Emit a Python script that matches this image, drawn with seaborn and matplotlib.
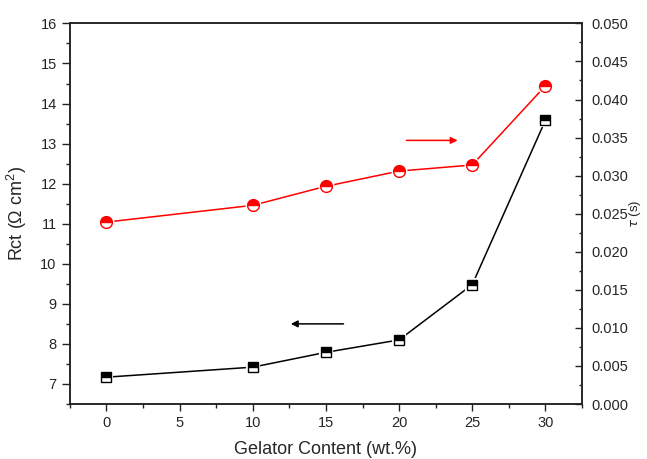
import matplotlib
matplotlib.use("Agg")
import matplotlib.pyplot as plt
from matplotlib.ticker import MultipleLocator, FormatStrFormatter
import seaborn as sns
import pandas as pd

# Gelator content (wt.%) and measured values
gelator = [0, 10, 15, 20, 25, 30]
rct = [7.17, 7.42, 7.79, 8.10, 9.48, 13.58]
tau = [0.0239, 0.0261, 0.0286, 0.0306, 0.0314, 0.0418]

sns.set_style("ticks")
plt.rcParams["font.family"] = ["Liberation Sans", "DejaVu Sans"]
plt.rcParams["mathtext.fontset"] = "custom"
plt.rcParams["mathtext.rm"] = "Liberation Sans"

df = pd.DataFrame({"gelator": gelator, "rct": rct, "tau": tau})

fig = plt.figure(figsize=(6.47, 4.59), dpi=100)
ax = fig.add_axes([0.108, 0.1198, 0.7915, 0.8292])
ax2 = ax.twinx()

# Rct series (left axis)
sns.lineplot(data=df, x="gelator", y="rct", ax=ax, color="black", lw=1.1,
             zorder=2, legend=False)
ax.plot(df["gelator"], df["rct"], ls="none", marker="s", ms=7.5,
        mfc="white", mec="white", mew=3.0, zorder=3)
ax.plot(df["gelator"], df["rct"], ls="none", marker="s", ms=7.5,
        fillstyle="top", mfc="black", mfcalt="white", mec="black",
        mew=1.0, zorder=4)

# tau series (right axis)
sns.lineplot(data=df, x="gelator", y="tau", ax=ax2, color="red", lw=1.1,
             zorder=2, legend=False)
ax2.plot(df["gelator"], df["tau"], ls="none", marker="o", ms=8.5,
         mfc="white", mec="white", mew=3.0, zorder=3)
ax2.plot(df["gelator"], df["tau"], ls="none", marker="o", ms=8.5,
         fillstyle="top", mfc="red", mfcalt="white", mec="red",
         mew=1.0, zorder=4)

# Arrows pointing to each series' axis
ax.annotate("", xy=(12.6, 8.5), xytext=(16.2, 8.5),
            arrowprops=dict(arrowstyle="-|>", color="black", lw=1.1,
                            mutation_scale=10, shrinkA=0, shrinkB=0))
ax.annotate("", xy=(24.0, 13.08), xytext=(20.5, 13.08),
            arrowprops=dict(arrowstyle="-|>", color="red", lw=1.1,
                            mutation_scale=10, shrinkA=0, shrinkB=0))

ax.set_xlim(-2.5, 32.5)
ax.set_ylim(6.5, 16)
ax2.set_ylim(0.0, 0.050)

ax.xaxis.set_major_locator(MultipleLocator(5))
ax.xaxis.set_minor_locator(MultipleLocator(2.5))
ax.yaxis.set_major_locator(MultipleLocator(1))
ax.yaxis.set_minor_locator(MultipleLocator(0.5))
ax2.yaxis.set_major_locator(MultipleLocator(0.005))
ax2.yaxis.set_minor_locator(MultipleLocator(0.0025))
ax2.yaxis.set_major_formatter(FormatStrFormatter("%.3f"))

ax.tick_params(axis="both", which="major", direction="out", length=6,
               width=1.0, labelsize=10.5, color="#222222")
ax.tick_params(axis="x", which="major", length=5)
ax.tick_params(axis="both", which="minor", direction="out", length=3,
               width=1.0, color="#222222")
ax.tick_params(axis="y", right=False)
ax.tick_params(axis="x", top=False, which="both")
ax2.tick_params(axis="y", which="major", direction="in", length=5,
                width=1.0, labelsize=10.5, pad=7, color="#222222")
ax2.tick_params(axis="y", which="minor", direction="in", length=2.5,
                width=1.0, color="#222222")

for a in (ax, ax2):
    for s in a.spines.values():
        s.set_visible(True)
        s.set_linewidth(1.1)
        s.set_color("#222222")

ax.set_xlabel("Gelator Content (wt.%)", fontsize=13, labelpad=8)
ax.set_ylabel(r"Rct ($\Omega$ cm$^2$)", fontsize=13, labelpad=8)
ax2.set_ylabel(r"$\tau$ (s)", fontsize=9.5, rotation=90)
ax2.yaxis.set_label_coords(1.088, 0.5)

fig.savefig("out.png", dpi=100)
